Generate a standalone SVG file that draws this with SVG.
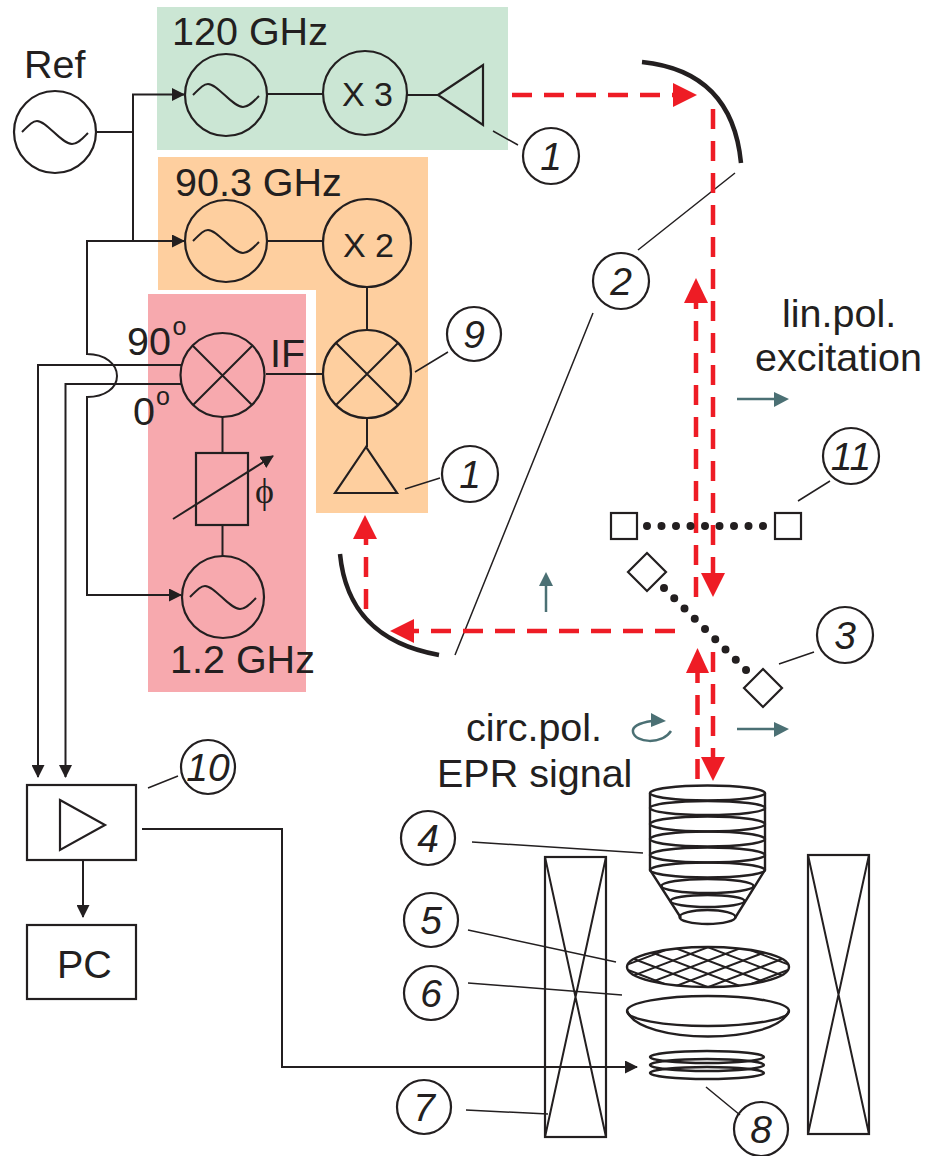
<svg xmlns="http://www.w3.org/2000/svg" width="926" height="1156" viewBox="0 0 926 1156">
<style>
text{font-family:"Liberation Sans",Arial,sans-serif;fill:#231f20;font-size:39.500px}
.n{font-style:italic;text-anchor:middle;font-size:39px}
.s{font-size:34px}
.o{font-size:25px}
.l{fill:none;stroke:#231f20;stroke-width:2}
.c{fill:none;stroke:#231f20;stroke-width:2.2}
.t{stroke:#231f20;stroke-width:1.5;fill:none}
.m{fill:none;stroke:#231f20;stroke-width:4.5}
.r{fill:none;stroke:#ee1c25;stroke-width:4.5;stroke-dasharray:20 12}
.rh{fill:#ee1c25}
.g{stroke:#4b7074;stroke-width:2.5;fill:none}
.gh{fill:#4b7074}
.d{fill:none;stroke:#231f20;stroke-width:8;stroke-linecap:round;stroke-dasharray:0 14.500}
.e{fill:none;stroke:#231f20;stroke-width:2.400}
.w{fill:none;stroke:#231f20;stroke-width:2}
</style>
<defs>
<marker id="a" markerUnits="userSpaceOnUse" markerWidth="13" markerHeight="13" refX="12" refY="6.500" orient="auto"><path d="M0 0L13 6.500L0 13z" fill="#231f20"/></marker>
<clipPath id="gc"><ellipse cx="708" cy="967" rx="81" ry="20"/></clipPath>
<path id="wave" class="w" d="M-33 0C-25 -8 -22 -11 -18 -11C-8 -11 6 12 17 12C23 12 28 6 33 1"/>
<path id="lat" class="l" d="M620 967L800 1035.400M620 953.700L800 1022.100M620 940.400L800 1008.800M620 927.100L800 995.500M620 913.800L800 982.200M620 900.500L800 968.900M620 887.200L800 955.600"/>
</defs>
<g id="bg-green"><rect x="157" y="7" width="351" height="143" fill="#cbe6d4"/></g>
<g id="bg-orange"><path d="M158 157H428V513H316V290H158z" fill="#fecf9f"/></g>
<g id="bg-pink"><rect x="148" y="294" width="158" height="398" fill="#f7a9ae"/></g>

<g id="connectors">
<path class="l" d="M97 132H133"/>
<path class="l" d="M133 241V94.500H184" marker-end="url(#a)"/>
<path class="l" d="M133 241H184" marker-end="url(#a)"/>
<path class="l" d="M133 241H87V354C105 354 117 364 117 376C117 388 105 397 87 397V595H181" marker-end="url(#a)"/>
<path class="l" d="M181 365H38V777" marker-end="url(#a)"/>
<path class="l" d="M181 384H65.500V777" marker-end="url(#a)"/>
<path class="l" d="M267 94H323M407 95H438M267 241H323M266 374H324M367 287V330M367 418V447M222.500 417V453M222.500 525V556"/>
<path class="l" d="M83 860V917" marker-end="url(#a)"/>
<path class="l" d="M142 829H282V1067H637" marker-end="url(#a)"/>
<path class="l" d="M173 519L273 456" marker-end="url(#a)"/>
<g class="leaders">
<path class="t" d="M493 131L518 145M415 372L448 352M405 489L440 478M735 173L638 250M593 313L455 655M798 501L830 481M779 664L814 652M148 788L178 776M472 842L643 853M468 930L616 962M468 983L622 995M466 1110L548 1114M706 1087L740 1115"/>
</g>
<path class="r" d="M512 95H674"/><path class="rh" d="M673 83L697 95L673 107z"/>
<path class="r" d="M713 109V574"/><path class="rh" d="M701 573H725L713 597z"/>
<path class="r" d="M696 597V302"/><path class="rh" d="M684 303H708L696 278z"/>
<path class="r" d="M675 631H413"/><path class="rh" d="M414 619V643L390 631z"/>
<path class="r" d="M366 609V538"/><path class="rh" d="M353 539H377L365 515z"/>
<path class="r" d="M697.500 779V672"/><path class="rh" d="M686 673H709L697.500 648z"/>
<path class="r" d="M713 652V758"/><path class="rh" d="M701 757H725L713 781z"/>
<path class="g" d="M737 399H776"/><path class="gh" d="M774 392L789 399L774 407z"/>
<path class="g" d="M737 729H776"/><path class="gh" d="M774 722L789 729L774 737z"/>
<path class="g" d="M546 612V584"/><path class="gh" d="M539 586L546 572L553 586z"/>
<path class="g" d="M652 721C638 723 632 727 633 732C635 743 662 745 671 731"/>
<path class="gh" d="M651 713L666 721L651 727z"/>
</g>

<g id="ref"><circle class="c" cx="55" cy="132" r="41"/><use href="#wave" x="55" y="132"/><text x="24" y="78">Ref</text></g>
<g id="osc120"><circle class="c" cx="226" cy="95" r="41"/><use href="#wave" x="226" y="95"/><text x="172" y="45">120 GHz</text></g>
<g id="x3"><circle class="c" cx="365" cy="93" r="42"/><text class="s" x="342" y="106">X 3</text></g>
<g id="amp1"><path class="c" d="M438 95L483 65V125z"/></g>
<g id="osc90"><circle class="c" cx="226" cy="241" r="41"/><use href="#wave" x="226" y="241"/><text x="175" y="196">90.3 GHz</text></g>
<g id="x2"><circle class="c" cx="367" cy="243" r="44"/><text class="s" x="343" y="257">X 2</text></g>
<g id="mixer2"><circle class="c" cx="367" cy="374" r="44"/><path class="l" d="M336 343L398 405M398 343L336 405"/></g>
<g id="amp2"><path class="c" d="M366 447L335 493H397z"/></g>
<g id="mixer1"><circle class="c" cx="222.500" cy="375" r="42"/><path class="l" d="M193 346L252 405M252 346L193 405"/><text x="127" y="355">90</text><text class="o" x="172.500" y="335">o</text><text x="133" y="425">0</text><text class="o" x="156" y="405">o</text><text x="270" y="367">IF</text></g>
<g id="phase"><rect class="c" x="196" y="453" width="52" height="72"/><text x="255" y="503" style="font-family:'Liberation Serif','DejaVu Serif',serif;font-size:36px">ϕ</text></g>
<g id="osc12"><circle class="c" cx="223" cy="597" r="41"/><use href="#wave" x="223" y="597"/><text x="170" y="673">1.2 GHz</text></g>
<g id="mirror1"><path class="m" d="M642 62C700 68 735 100 741 163"/></g>
<g id="mirror2"><path class="m" d="M340 554C345 605 372 643 439 655"/></g>
<g id="pol1"><rect class="c" x="611" y="513" width="26" height="26"/><rect class="c" x="775" y="513" width="26" height="26"/><path class="d" d="M647 526H767"/></g>
<g id="pol2"><path class="c" d="M647 553L666 572L647 591L628 572z"/><path class="c" d="M763 669L782 688L763 707L744 688z"/><path class="d" d="M664 588L748 672"/></g>
<g id="labels"><text x="782" y="327">lin.pol.</text><text x="755" y="371">excitation</text><text x="466" y="741">circ.pol.</text><text x="437" y="787">EPR signal</text></g>
<g id="lock-in"><rect class="c" x="27" y="785" width="109" height="75"/><path class="c" d="M60 800L105 825L60 850z"/></g>
<g id="pc"><rect class="c" x="27" y="925" width="109" height="74"/><text x="57" y="978">PC</text></g>
<g id="horn">
<path class="e" d="M650 793V870L681 918M765 793V870L735 918"/>
<ellipse class="e" cx="707.500" cy="793" rx="57.500" ry="7.500"/>
<ellipse class="e" cx="707.500" cy="808" rx="57.500" ry="7"/>
<ellipse class="e" cx="707.500" cy="824" rx="57.500" ry="7.500"/>
<ellipse class="e" cx="707.500" cy="839" rx="57.500" ry="7.500"/>
<ellipse class="e" cx="707.500" cy="855" rx="57.500" ry="7.500"/>
<ellipse class="e" cx="707.500" cy="870" rx="57.500" ry="7.500"/>
<ellipse class="e" cx="707.500" cy="886" rx="46" ry="7"/>
<ellipse class="e" cx="707.500" cy="901" rx="37" ry="6"/>
<ellipse class="e" cx="707.500" cy="917" rx="28" ry="7"/>
</g>
<g id="grid"><g clip-path="url(#gc)"><use href="#lat"/><use href="#lat" transform="matrix(-1 0 0 1 1416 0)"/></g><ellipse class="e" cx="708" cy="967" rx="81" ry="20"/></g>
<g id="lens"><ellipse class="e" cx="708" cy="1011" rx="81" ry="15"/><path class="e" d="M627 1011C640 1045 776 1045 789 1011"/></g>
<g id="coil"><ellipse class="e" cx="707" cy="1057" rx="57" ry="6"/><ellipse class="e" cx="707" cy="1065" rx="57" ry="6"/><ellipse class="e" cx="707" cy="1073" rx="57" ry="6"/></g>
<g id="magnet1"><rect class="c" x="545" y="857" width="61" height="280"/><path class="l" d="M545 857L606 1137M606 857L545 1137"/></g>
<g id="magnet2"><rect class="c" x="808" y="855" width="61" height="279"/><path class="l" d="M808 855L869 1134M869 855L808 1134"/></g>

<g id="n1a"><circle class="c" cx="551" cy="156" r="28"/><text class="n" x="551" y="170">1</text></g>
<g id="n1b"><circle class="c" cx="470" cy="474" r="28"/><text class="n" x="470" y="488">1</text></g>
<g id="n9"><circle class="c" cx="474" cy="334" r="27"/><text class="n" x="474" y="348">9</text></g>
<g id="n2"><circle class="c" cx="621" cy="281" r="28"/><text class="n" x="621" y="295">2</text></g>
<g id="n11"><circle class="c" cx="851" cy="456" r="28"/><text class="n" x="851" y="470">11</text></g>
<g id="n3"><circle class="c" cx="845" cy="635" r="28"/><text class="n" x="845" y="649">3</text></g>
<g id="n10"><circle class="c" cx="208" cy="767" r="27"/><text class="n" x="208" y="781">10</text></g>
<g id="n4"><circle class="c" cx="428" cy="838" r="27"/><text class="n" x="428" y="852">4</text></g>
<g id="n5"><circle class="c" cx="431" cy="920" r="27"/><text class="n" x="431" y="934">5</text></g>
<g id="n6"><circle class="c" cx="431" cy="993" r="27"/><text class="n" x="431" y="1007">6</text></g>
<g id="n7"><circle class="c" cx="424" cy="1107" r="27"/><text class="n" x="424" y="1121">7</text></g>
<g id="n8"><circle class="c" cx="761" cy="1129" r="27"/><text class="n" x="761" y="1143">8</text></g>
</svg>
